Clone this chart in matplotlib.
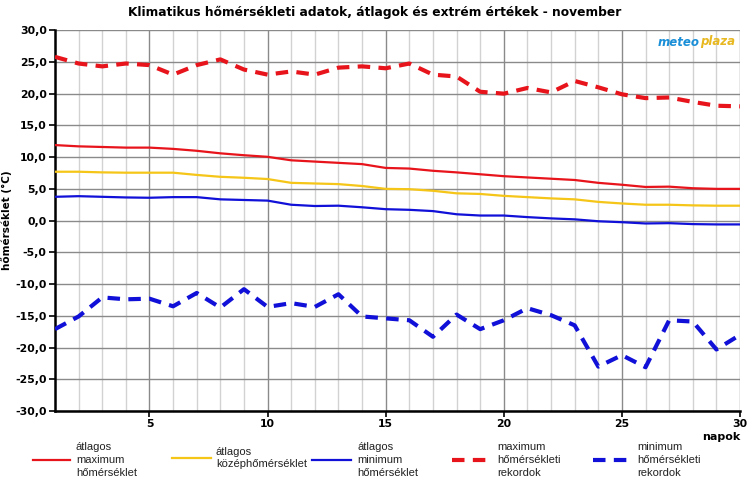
import numpy as np
import matplotlib
matplotlib.use('Agg')
import matplotlib.pyplot as plt
from matplotlib.lines import Line2D

# napok es adatok (november)
days = list(range(1, 31))
avg_max = [11.9, 11.7, 11.6, 11.5, 11.5, 11.3, 11.0, 10.6, 10.3, 10.05,
           9.5, 9.3, 9.1, 8.9, 8.3, 8.2, 7.85, 7.6, 7.3, 7.0,
           6.8, 6.6, 6.4, 5.95, 5.65, 5.3, 5.35, 5.1, 5.0, 5.0]
avg_mean = [7.7, 7.7, 7.6, 7.55, 7.55, 7.55, 7.2, 6.9, 6.75, 6.55,
            5.95, 5.85, 5.75, 5.45, 5.0, 4.95, 4.7, 4.3, 4.2, 3.9,
            3.7, 3.5, 3.35, 2.95, 2.7, 2.5, 2.5, 2.4, 2.35, 2.35]
avg_min = [3.75, 3.85, 3.75, 3.65, 3.6, 3.7, 3.7, 3.35, 3.25, 3.15,
           2.5, 2.3, 2.35, 2.1, 1.8, 1.7, 1.5, 1.0, 0.8, 0.8,
           0.55, 0.35, 0.2, -0.1, -0.25, -0.45, -0.4, -0.55, -0.6, -0.6]
rec_max = [25.8, 24.75, 24.3, 24.75, 24.5, 23.0, 24.5, 25.4, 23.8, 23.0,
           23.5, 23.0, 24.1, 24.3, 24.0, 24.75, 23.0, 22.7, 20.3, 20.0,
           20.9, 20.2, 22.0, 21.0, 19.9, 19.3, 19.4, 18.7, 18.1, 18.0]
rec_min = [-17.1, -15.1, -12.1, -12.4, -12.3, -13.5, -11.4, -13.7, -10.8, -13.6,
           -13.0, -13.6, -11.6, -15.1, -15.4, -15.7, -18.3, -14.8, -17.1, -15.7,
           -13.8, -14.9, -16.5, -23.0, -21.2, -23.1, -15.7, -15.9, -20.3, -18.0]

yticks = list(range(-30, 31, 5))
xticks = [5, 10, 15, 20, 25, 30]

RED = '#e8141c'
YEL = '#f5c518'
BLUE = '#1010d8'

fig = plt.figure(figsize=(7.5, 4.87), dpi=100)
ax = fig.add_axes([0.0733, 0.156, 0.9134, 0.782])

ax.plot(days, rec_max, color=RED, lw=3, dashes=(3, 2), zorder=5)
ax.plot(days, rec_min, color=BLUE, lw=3, dashes=(3, 2), zorder=5)
ax.plot(days, avg_max, color=RED, lw=1.6, zorder=5)
ax.plot(days, avg_mean, color=YEL, lw=1.6, zorder=5)
ax.plot(days, avg_min, color=BLUE, lw=1.6, zorder=5)

ax.set_xlim(1, 30)
ax.set_ylim(-30, 30)
ax.set_yticks(yticks)
ax.set_yticklabels([('%.1f' % v).replace('.', ',') for v in yticks])
ax.set_xticks(xticks)
ax.set_xticks(days, minor=True)
for lab in ax.get_xticklabels() + ax.get_yticklabels():
    lab.set_fontweight('bold')
    lab.set_fontsize(7.8)

ax.grid(True, which='major', axis='both', color='#8a8a8a', lw=1.0, zorder=0)
ax.grid(True, which='minor', axis='x', color='#d2d2d2', lw=1.0, zorder=0)
ax.tick_params(axis='both', which='major', length=4, width=1.2, pad=2)
ax.tick_params(axis='x', which='minor', length=0)
for s in ['top', 'right']:
    ax.spines[s].set_visible(False)
for s in ['left', 'bottom']:
    ax.spines[s].set_linewidth(1.8)

ax.set_ylabel('hőmérséklet (°C)', fontsize=7.5, fontweight='bold', labelpad=2)
fig.text(740 / 750, 1 - 437 / 487, 'napok', ha='right', va='center',
         fontsize=8, fontweight='bold')
fig.text(375 / 750, 1 - 12 / 487,
         'Klimatikus hőmérsékleti adatok, átlagok és extrém értékek - november',
         ha='center', va='center', fontsize=8.8, fontweight='bold')

# logo
t1 = fig.text(658 / 750, 1 - 42 / 487, 'meteo', color='#1a8fd8', fontsize=8.5,
              fontweight='bold', style='italic', ha='left', va='center')
ax.annotate('plaza', xy=(1, 0.5), xycoords=t1, color='#e8b820', fontsize=8.5,
            fontweight='bold', style='italic', ha='left', va='center')

# legend
legend_items = [
    (33, 70, 76, RED, 'solid', ['átlagos', 'maximum', 'hőmérséklet']),
    (172, 211, 216, YEL, 'solid', ['átlagos', 'középhőmérséklet']),
    (312, 351, 357, BLUE, 'solid', ['átlagos', 'minimum', 'hőmérséklet']),
    (452, 492, 497, RED, 'dash', ['maximum', 'hőmérsékleti', 'rekordok']),
    (593, 632, 637, BLUE, 'dash', ['minimum', 'hőmérsékleti', 'rekordok']),
]
fam = ['Liberation Sans Narrow', 'Liberation Sans', 'DejaVu Sans']
for x0, x1, xt, col, st, lines in legend_items:
    yc = 460 if len(lines) == 3 else 458
    if st == 'solid':
        fig.add_artist(Line2D([x0 / 750, x1 / 750], [1 - yc / 487] * 2,
                              color=col, lw=1.6, transform=fig.transFigure))
    else:
        fig.add_artist(Line2D([x0 / 750, x1 / 750], [1 - yc / 487] * 2,
                              color=col, lw=3, dashes=(3, 2),
                              transform=fig.transFigure))
    n = len(lines)
    for i, t in enumerate(lines):
        yy = yc + (i - (n - 1) / 2) * 12.5
        fig.text(xt / 750, 1 - yy / 487, t, ha='left', va='center',
                 fontsize=8, family=fam, color='#222222')

fig.savefig('out.png', dpi=100)
